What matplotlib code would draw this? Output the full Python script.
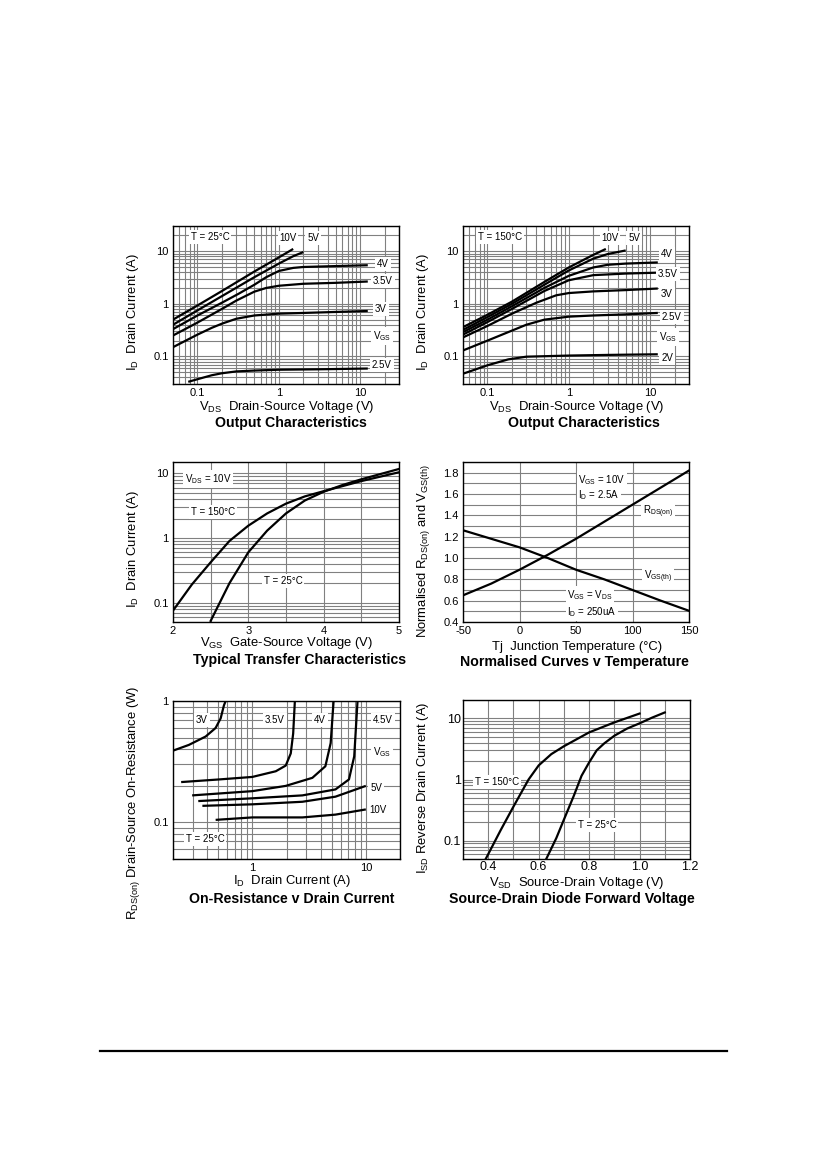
import matplotlib
matplotlib.use('Agg')
import matplotlib.pyplot as plt
from matplotlib.ticker import FixedLocator, FixedFormatter, LogLocator, MultipleLocator, NullFormatter
from matplotlib.lines import Line2D

plt.rcParams['font.family'] = ['Liberation Sans', 'DejaVu Sans']
plt.rcParams['mathtext.fontset'] = 'custom'
plt.rcParams['mathtext.rm'] = 'Liberation Sans'
plt.rcParams['mathtext.it'] = 'Liberation Sans:italic'
plt.rcParams['mathtext.bf'] = 'Liberation Sans:bold'

# ---------------- data ----------------
# Panel 1: output characteristics, T = 25C  (VDS [V], ID [A])
out25_10v_x = [0.05, 0.1, 0.2, 0.5, 1.0, 1.5]
out25_10v_y = [0.50, 0.93, 1.75, 4.1, 7.6, 11.0]
out25_5v_x = [0.05, 0.1, 0.2, 0.5, 1.0, 1.5, 2.0]
out25_5v_y = [0.40, 0.75, 1.40, 3.2, 5.8, 8.0, 9.6]
out25_4v_x = [0.05, 0.1, 0.2, 0.32, 0.5, 0.7, 1.0, 1.5, 2.0, 5.0, 12.4]
out25_4v_y = [0.33, 0.60, 1.05, 1.55, 2.3, 3.2, 4.2, 4.8, 5.0, 5.2, 5.4]
out25_35v_x = [0.05, 0.1, 0.2, 0.3, 0.5, 0.7, 1.0, 2.0, 5.0, 12.4]
out25_35v_y = [0.25, 0.44, 0.80, 1.15, 1.70, 2.0, 2.2, 2.4, 2.5, 2.65]
out25_3v_x = [0.05, 0.1, 0.15, 0.2, 0.3, 0.5, 1.0, 2.0, 5.0, 12.4]
out25_3v_y = [0.15, 0.26, 0.35, 0.42, 0.52, 0.60, 0.65, 0.67, 0.70, 0.73]
out25_25v_x = [0.077, 0.1, 0.15, 0.2, 0.3, 0.5, 1.0, 3.0, 12.4]
out25_25v_y = [0.033, 0.037, 0.044, 0.048, 0.052, 0.054, 0.056, 0.057, 0.059]

# Panel 2: output characteristics, T = 150C
out150_10v_x = [0.05, 0.1, 0.2, 0.5, 1.0, 2.0, 2.85]
out150_10v_y = [0.36, 0.62, 1.10, 2.6, 4.9, 8.5, 11.0]
out150_5v_x = [0.05, 0.1, 0.2, 0.5, 1.0, 2.0, 3.0, 5.0]
out150_5v_y = [0.32, 0.56, 1.00, 2.3, 4.3, 7.2, 8.8, 10.3]
out150_4v_x = [0.05, 0.1, 0.2, 0.5, 1.0, 2.0, 3.0, 5.0, 12.4]
out150_4v_y = [0.29, 0.50, 0.90, 2.0, 3.4, 4.9, 5.5, 5.8, 6.1]
out150_35v_x = [0.05, 0.1, 0.2, 0.5, 1.0, 2.0, 5.0, 12.4]
out150_35v_y = [0.26, 0.45, 0.80, 1.75, 2.8, 3.5, 3.75, 3.9]
out150_3v_x = [0.05, 0.1, 0.2, 0.4, 0.7, 1.0, 2.0, 5.0, 12.4]
out150_3v_y = [0.23, 0.38, 0.65, 1.05, 1.45, 1.6, 1.72, 1.82, 1.95]
out150_25v_x = [0.05, 0.1, 0.2, 0.3, 0.5, 1.0, 2.0, 5.0, 12.4]
out150_25v_y = [0.13, 0.20, 0.31, 0.40, 0.50, 0.57, 0.60, 0.63, 0.67]
out150_2v_x = [0.05, 0.1, 0.18, 0.3, 1.0, 3.0, 12.4]
out150_2v_y = [0.047, 0.068, 0.088, 0.099, 0.104, 0.107, 0.110]

# Panel 3: transfer characteristics (VGS [V], ID [A])
tr150_x = [2.0, 2.25, 2.5, 2.75, 3.0, 3.25, 3.5, 3.75, 4.0, 4.5, 5.0]
tr150_y = [0.075, 0.19, 0.42, 0.90, 1.55, 2.4, 3.4, 4.4, 5.3, 7.6, 10.4]
tr25_x = [2.5, 2.75, 3.0, 3.25, 3.5, 3.75, 4.0, 4.25, 4.5, 5.0]
tr25_y = [0.052, 0.20, 0.60, 1.30, 2.4, 3.8, 5.2, 6.6, 8.1, 11.7]

# Panel 4: normalised curves vs temperature
temp_c = [-50, -25, 0, 25, 50, 75, 100, 125, 150]
rdson_norm = [0.65, 0.76, 0.89, 1.03, 1.18, 1.34, 1.50, 1.66, 1.82]
vgsth_norm = [1.26, 1.18, 1.10, 1.00, 0.89, 0.80, 0.70, 0.60, 0.505]

# Panel 5: on-resistance vs drain current (ID [A], RDS(on) [ohm])
ron_3v_x = [0.2, 0.276, 0.388, 0.475, 0.526, 0.562, 0.582]
ron_3v_y = [0.39, 0.435, 0.51, 0.60, 0.72, 0.92, 1.0]
ron_35v_x = [0.236, 0.51, 1.0, 1.61, 1.97, 2.18, 2.29, 2.37]
ron_35v_y = [0.215, 0.226, 0.237, 0.264, 0.294, 0.37, 0.54, 1.0]
ron_4v_x = [0.295, 1.0, 1.97, 3.38, 4.4, 4.9, 5.2]
ron_4v_y = [0.167, 0.181, 0.20, 0.233, 0.29, 0.45, 1.0]
ron_45v_x = [0.334, 1.0, 2.76, 5.4, 7.1, 7.9, 8.45]
ron_45v_y = [0.150, 0.158, 0.167, 0.187, 0.226, 0.35, 1.0]
ron_5v_x = [0.363, 1.0, 2.76, 5.4, 10.0]
ron_5v_y = [0.137, 0.141, 0.148, 0.163, 0.20]
ron_10v_x = [0.475, 1.0, 2.76, 5.4, 10.0]
ron_10v_y = [0.105, 0.110, 0.110, 0.116, 0.128]

# Panel 6: source-drain diode forward voltage (VSD [V], ISD [A])
sd150_x = [0.39, 0.45, 0.50, 0.56, 0.60, 0.65, 0.70, 0.80, 0.90, 1.00]
sd150_y = [0.05, 0.15, 0.36, 1.0, 1.7, 2.6, 3.5, 5.9, 8.6, 12.0]
sd25_x = [0.63, 0.67, 0.70, 0.74, 0.77, 0.80, 0.83, 0.86, 0.90, 0.95, 1.00, 1.05, 1.10]
sd25_y = [0.05, 0.11, 0.22, 0.55, 1.15, 1.9, 3.0, 3.9, 5.2, 6.8, 8.3, 10.3, 12.5]

# tick labels
log_ticks_3 = [0.1, 1, 10]
log_labels_3 = ['0.1', '1', '10']
tr_xticks = [2, 3, 4, 5]
temp_xticks = [-50, 0, 50, 100, 150]
norm_yticks = [0.4, 0.6, 0.8, 1.0, 1.2, 1.4, 1.6, 1.8]
ron_xticks = [1, 10]
ron_yticks = [0.1, 1]
sd_xticks = [0.4, 0.6, 0.8, 1.0, 1.2]

# ---------------- figure ----------------
W, H = 826, 1169
fig = plt.figure(figsize=(W / 100, H / 100), dpi=100)
fig.patch.set_facecolor('white')


def add_ax(l, t, r, b):
    return fig.add_axes([l / W, 1 - b / H, (r - l) / W, (b - t) / H])


def ftext(px, py, s, size=7, **kw):
    kw.setdefault('ha', 'center')
    kw.setdefault('va', 'center')
    return fig.text(px / W, 1 - py / H, s, fontsize=size, **kw)


def box(px, py, s, size=7):
    ftext(px, py, s, size=size,
          bbox=dict(facecolor='white', edgecolor='none', pad=1.2))


GRID = '#808080'


def style(ax, xlog, ylog, xlim, ylim, xticks, xlabels, yticks, ylabels,
          xminor=None, yminor=None, fs=8, pad=3):
    if xlog:
        ax.set_xscale('log')
    if ylog:
        ax.set_yscale('log')
    ax.set_xlim(*xlim)
    ax.set_ylim(*ylim)
    ax.xaxis.set_major_locator(FixedLocator(xticks))
    ax.xaxis.set_major_formatter(FixedFormatter(xlabels))
    ax.yaxis.set_major_locator(FixedLocator(yticks))
    ax.yaxis.set_major_formatter(FixedFormatter(ylabels))
    if xlog:
        ax.xaxis.set_minor_locator(LogLocator(base=10, subs=range(2, 10), numticks=30))
    elif xminor:
        ax.xaxis.set_minor_locator(MultipleLocator(xminor))
    if ylog:
        ax.yaxis.set_minor_locator(LogLocator(base=10, subs=range(2, 10), numticks=30))
    elif yminor:
        ax.yaxis.set_minor_locator(MultipleLocator(yminor))
    ax.xaxis.set_minor_formatter(NullFormatter())
    ax.yaxis.set_minor_formatter(NullFormatter())
    ax.grid(which='major', color=GRID, lw=0.8)
    if xlog or xminor:
        ax.grid(which='minor', axis='x', color=GRID, lw=0.8)
    if ylog or yminor:
        ax.grid(which='minor', axis='y', color=GRID, lw=0.8)
    ax.set_axisbelow(True)
    ax.tick_params(which='both', length=0, labelsize=fs, pad=pad)
    for sp in ax.spines.values():
        sp.set_linewidth(1.0)


LW = 1.6
K = 'black'

# Panel 1
ax1 = add_ax(173, 226, 399, 384)
style(ax1, True, True, (0.05, 30), (0.03, 30), log_ticks_3, log_labels_3,
      log_ticks_3, log_labels_3)
for xs, ys in [(out25_10v_x, out25_10v_y), (out25_5v_x, out25_5v_y),
               (out25_4v_x, out25_4v_y), (out25_35v_x, out25_35v_y),
               (out25_3v_x, out25_3v_y), (out25_25v_x, out25_25v_y)]:
    ax1.plot(xs, ys, color=K, lw=LW, solid_capstyle='butt')

# Panel 2
ax2 = add_ax(463, 226, 689, 384)
style(ax2, True, True, (0.05, 30), (0.03, 30), log_ticks_3, log_labels_3,
      log_ticks_3, log_labels_3)
for xs, ys in [(out150_10v_x, out150_10v_y), (out150_5v_x, out150_5v_y),
               (out150_4v_x, out150_4v_y), (out150_35v_x, out150_35v_y),
               (out150_3v_x, out150_3v_y), (out150_25v_x, out150_25v_y),
               (out150_2v_x, out150_2v_y)]:
    ax2.plot(xs, ys, color=K, lw=LW, solid_capstyle='butt')

# Panel 3
ax3 = add_ax(173, 462, 399, 622)
style(ax3, False, True, (2, 5), (0.05, 15), tr_xticks, [str(v) for v in tr_xticks],
      log_ticks_3, log_labels_3, xminor=0.5)
ax3.plot(tr150_x, tr150_y, color=K, lw=LW)
ax3.plot(tr25_x, tr25_y, color=K, lw=LW)

# Panel 4
ax4 = add_ax(463, 462, 689, 622)
style(ax4, False, False, (-50, 150), (0.4, 1.9), temp_xticks,
      [str(v) for v in temp_xticks], norm_yticks, ['%.1f' % v for v in norm_yticks],
      yminor=0.1)
ax4.plot(temp_c, rdson_norm, color=K, lw=LW)
ax4.plot(temp_c, vgsth_norm, color=K, lw=LW)

# Panel 5
ax5 = add_ax(173, 701, 400, 859)
style(ax5, True, True, (0.2, 20), (0.05, 1), ron_xticks, ['1', '10'],
      ron_yticks, ['0.1', '1'])
for xs, ys in [(ron_3v_x, ron_3v_y), (ron_35v_x, ron_35v_y), (ron_4v_x, ron_4v_y),
               (ron_45v_x, ron_45v_y), (ron_5v_x, ron_5v_y), (ron_10v_x, ron_10v_y)]:
    ax5.plot(xs, ys, color=K, lw=LW, solid_capstyle='butt')

# Panel 6
ax6 = add_ax(463, 700, 690, 859)
style(ax6, False, True, (0.3, 1.2), (0.05, 20), sd_xticks,
      ['%.1f' % v for v in sd_xticks], log_ticks_3, log_labels_3, xminor=0.1,
      fs=9, pad=1.5)
ax6.plot(sd150_x, sd150_y, color=K, lw=LW)
ax6.plot(sd25_x, sd25_y, color=K, lw=LW)

# ---------------- axis labels and titles ----------------
LF = 9.4
TF = 10.2
sub = lambda s: r'$_{\mathregular{%s}}$' % s

ftext(133, 312, 'I' + sub('D') + '  Drain Current (A)', LF, rotation=90)
ftext(287, 407, 'V' + sub('DS') + '  Drain-Source Voltage (V)', LF)
ftext(291, 423, 'Output Characteristics', TF, weight='bold')

ftext(423, 312, 'I' + sub('D') + '  Drain Current (A)', LF, rotation=90)
ftext(577, 407, 'V' + sub('DS') + '  Drain-Source Voltage (V)', LF)
ftext(584, 423, 'Output Characteristics', TF, weight='bold')

ftext(133, 549, 'I' + sub('D') + '  Drain Current (A)', LF, rotation=90)
ftext(287, 643, 'V' + sub('GS') + '  Gate-Source Voltage (V)', LF)
ftext(300, 660, 'Typical Transfer Characteristics', TF, weight='bold')

ftext(423, 551, 'Normalised R' + sub('DS(on)') + ' and V' + sub('GS(th)'), LF, rotation=90)
ftext(577, 647, 'Tj  Junction Temperature (\u00b0C)', LF)
ftext(574, 662, 'Normalised Curves v Temperature', TF, weight='bold')

ftext(133, 803, 'R' + sub('DS(on)') + ' Drain-Source On-Resistance (W)', LF, rotation=90)
ftext(292, 881, 'I' + sub('D') + '  Drain Current (A)', LF)
ftext(292, 899, 'On-Resistance v Drain Current', TF, weight='bold')

ftext(423, 788, 'I' + sub('SD') + ' Reverse Drain Current (A)', LF, rotation=90)
ftext(577, 883, 'V' + sub('SD') + '  Source-Drain Voltage (V)', LF)
ftext(572, 899, 'Source-Drain Diode Forward Voltage', TF, weight='bold')

# ---------------- in-plot annotations ----------------
box(210, 237, 'T = 25\u00b0C')
box(288, 238, '10V')
box(313, 238, '5V')
box(383, 264, '4V')
box(383, 281, '3.5V')
box(381, 309, '3V')
box(382, 336, 'V' + sub('GS'))
box(382, 365, '2.5V')

box(500, 237, 'T = 150\u00b0C')
box(610, 238, '10V')
box(634, 238, '5V')
box(667, 254, '4V')
box(668, 274, '3.5V')
box(667, 294, '3V')
box(672, 317, '2.5V')
box(668, 337, 'V' + sub('GS'))
box(667, 358, '2V')

box(208, 479, 'V' + sub('DS') + ' = 10V')
box(213, 512, 'T = 150\u00b0C')
box(283, 581, 'T = 25\u00b0C')

box(602, 480, 'V' + sub('GS') + ' = 10V')
box(599, 495, 'I' + sub('D') + ' = 2.5A')
box(658, 512, 'R' + sub('DS(on)'))
box(658, 577, 'V' + sub('GS(th)'))
box(590, 595, 'V' + sub('GS') + ' = V' + sub('DS'))
box(592, 612, 'I' + sub('D') + ' = 250uA')

box(202, 720, '3V')
box(275, 720, '3.5V')
box(320, 720, '4V')
box(383, 720, '4.5V')
box(382, 752, 'V' + sub('GS'))
box(376, 788, '5V')
box(378, 810, '10V')
box(205, 839, 'T = 25\u00b0C')

box(497, 782, 'T = 150\u00b0C')
box(597, 825, 'T = 25\u00b0C')

# bottom rule
fig.add_artist(Line2D([100 / W, 727 / W], [1 - 1051 / H, 1 - 1051 / H],
                      color='black', lw=1.6, transform=fig.transFigure))

fig.savefig('out.png', dpi=100, facecolor='white')
